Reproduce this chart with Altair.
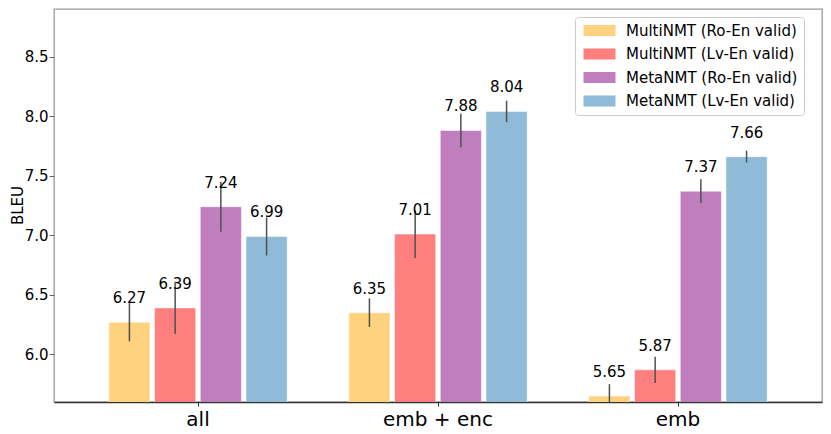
import altair as alt
import pandas as pd

groups = ["all", "emb + enc", "emb"]
series = ["MultiNMT (Ro-En valid)", "MultiNMT (Lv-En valid)",
          "MetaNMT (Ro-En valid)", "MetaNMT (Lv-En valid)"]
colors = ["#FFD27F", "#FF7F7F", "#BF7FBF", "#8FBBD9"]

multi_ro = [6.27, 6.35, 5.65]
multi_lv = [6.39, 7.01, 5.87]
meta_ro = [7.24, 7.88, 7.37]
meta_lv = [6.99, 8.04, 7.66]

multi_ro_err = [0.16, 0.12, 0.10]
multi_lv_err = [0.22, 0.20, 0.11]
meta_ro_err = [0.21, 0.14, 0.10]
meta_lv_err = [0.16, 0.09, 0.05]

y_ticks = [6.0, 6.5, 7.0, 7.5, 8.0, 8.5]

vals = [multi_ro, multi_lv, meta_ro, meta_lv]
errs = [multi_ro_err, multi_lv_err, meta_ro_err, meta_lv_err]
rows = []
for si, s in enumerate(series):
    for gi, g in enumerate(groups):
        v = vals[si][gi]
        e = errs[si][gi]
        rows.append({"group": g, "series": s, "bleu": v, "lo": v - e, "hi": v + e})
df = pd.DataFrame(rows)

FONT = "DejaVu Sans"

x = alt.X("group:N", sort=groups, title=None,
          scale=alt.Scale(paddingInner=0.238, paddingOuter=0.219),
          axis=alt.Axis(labelAngle=0, labelFontSize=20, labelFont=FONT, labelColor="black",
                        tickSize=4, tickColor="#333", domainColor="#333", domainWidth=1.3,
                        labelPadding=3))
xo = alt.XOffset("series:N", sort=series,
                 scale=alt.Scale(paddingInner=0.1, paddingOuter=0.05))
yscale = alt.Scale(domain=[5.6, 8.9], zero=False, nice=False)

base = alt.Chart(df)

bars = base.mark_bar(clip=True, stroke="white", strokeOpacity=0.5, strokeWidth=1).encode(
    x=x, xOffset=xo,
    y=alt.Y("bleu:Q", scale=yscale, title="BLEU",
            axis=alt.Axis(values=y_ticks, format=".1f", grid=False, domain=False,
                          labelFontSize=15, labelFont=FONT, labelColor="black",
                          tickSize=5, tickColor="#666", labelPadding=1,
                          titleFontSize=15, titleFont=FONT, titleFontWeight="normal",
                          titleColor="black", titleX=-29, titleY=196,
                          titleBaseline="bottom", titleAlign="center", titleAngle=270)),
    y2=alt.value(393),
    color=alt.Color("series:N", sort=series,
                    scale=alt.Scale(domain=series, range=colors),
                    legend=alt.Legend(title=None, orient="none", legendX=521, legendY=8,
                                      symbolType="M-1,-1.12H5.4V1.12H-1Z", symbolSize=100,
                                      symbolStrokeWidth=0, symbolOpacity=1,
                                      labelFontSize=15, labelFont=FONT, labelColor="black",
                                      labelOffset=30, labelLimit=400, rowPadding=7.5,
                                      padding=6,
                                      strokeColor="#cccccc", fillColor="white",
                                      cornerRadius=3)),
)

errbars = base.mark_rule(color="#505050", strokeWidth=1.5, clip=True).encode(
    x=x, xOffset=xo,
    y=alt.Y("lo:Q", scale=yscale),
    y2="hi:Q",
)

labels = base.mark_text(font=FONT, fontSize=15, color="black", baseline="alphabetic",
                        dy=-19).encode(
    x=x, xOffset=xo,
    y=alt.Y("bleu:Q", scale=yscale),
    text=alt.Text("bleu:Q", format=".2f"),
)

chart = alt.layer(bars, errbars, labels).properties(
    width=768, height=393,
    autosize=alt.AutoSizeParams(type="none"),
    padding={"left": 46, "top": 1, "right": 1, "bottom": 30},
).configure_view(stroke="#999999", strokeWidth=1.3)

chart.save("out.html", embed_options={"renderer": "svg", "actions": False})
